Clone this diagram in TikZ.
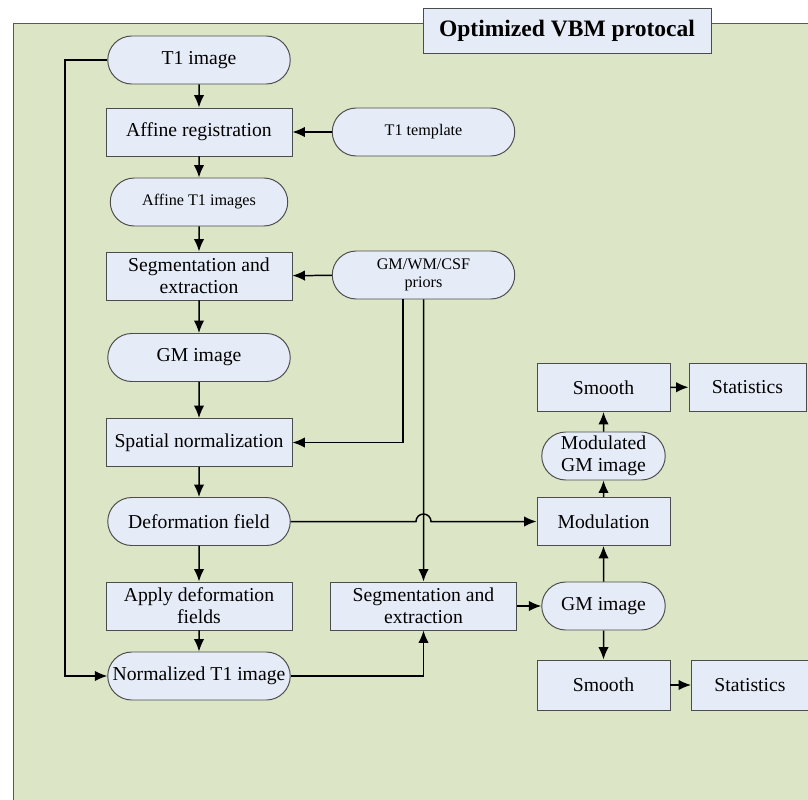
\documentclass[tikz,border=0pt]{standalone}
\usepackage{fontspec}
\setmainfont{Liberation Serif}
\usetikzlibrary{shapes.misc,calc,arrows.meta}
\definecolor{panelgreen}{RGB}{220,230,199}
\definecolor{boxblue}{RGB}{230,236,247}

\begin{document}
\begin{tikzpicture}[process/.style={draw=black!70,line width=0.55pt,fill=boxblue,minimum width=3.72cm,minimum height=0.96cm,
                                    inner sep=1pt,align=center,font=\fontsize{11.2}{12.4}\selectfont},
                    data/.style={process,rounded rectangle},
                    narrow/.style={minimum width=2.66cm},
                    note/.style={font=\fontsize{9.2}{10.5}\selectfont},
                    flow/.style={-{Latex[length=2.5mm,width=2.1mm]},line width=0.85pt}]
    \useasboundingbox (0,0) rectangle (16.16,-15.98);
    \fill[panelgreen,draw=black!65,line width=0.55pt] (0.26,-0.46) rectangle (16.6,-16.4);

    \node[process,font=\bfseries\fontsize{13.4}{15}\selectfont,minimum width=5.76cm,minimum height=0.9cm] (title) at (11.34,-0.61) {Optimized VBM protocal};

    % left column
    \node[data] (t1) at (3.98,-1.20) {T1 image};
    \node[process] (affine) at (3.98,-2.64) {Affine registration};
    \node[data,note,minimum width=3.62cm] (affine t1) at (3.98,-4.04) {Affine T1 images};
    \node[process] (seg) at (3.98,-5.52) {Segmentation and\\extraction};
    \node[data] (gm) at (3.98,-7.15) {GM image};
    \node[process] (spatial) at (3.98,-8.85) {Spatial normalization};
    \node[data] (deform) at (3.98,-10.43) {Deformation field};
    \node[process] (apply) at (3.98,-12.12) {Apply deformation\\fields};
    \node[data] (norm t1) at (3.98,-13.52) {Normalized T1 image};

    % middle column
    \node[data,note] (template) at (8.47,-2.64) {T1 template};
    \node[data,note] (priors) at (8.47,-5.50) {GM/WM/CSF\\priors};
    \node[process] (seg2) at (8.47,-12.12) {Segmentation and\\extraction};

    % right column
    \node[process,narrow] (smooth1) at (12.07,-7.75) {Smooth};
    \node[process,minimum width=2.34cm] (stats1) at (14.95,-7.74) {Statistics};
    \node[data,narrow,minimum width=2.54cm] (modulated) at (12.07,-9.12) {Modulated\\GM image};
    \node[process,narrow] (modulation) at (12.07,-10.43) {Modulation};
    \node[data,narrow,minimum width=2.54cm] (gm2) at (12.07,-12.12) {GM image};
    \node[process,narrow,minimum height=1.0cm] (smooth2) at (12.07,-13.70) {Smooth};
    \node[process,minimum width=2.34cm,minimum height=1.0cm] (stats2) at (15.0,-13.70) {Statistics};

    \coordinate (loop) at (1.30,0);
    \coordinate (prior split) at (8.06,0);

    \draw[flow] (t1) -- (affine);
    \draw[flow] (template) -- (affine);
    \draw[flow] (affine) -- (affine t1);
    \draw[flow] (affine t1) -- (seg);
    \draw[flow] (priors) -- (seg);
    \draw[flow] (seg) -- (gm);
    \draw[flow] (gm) -- (spatial);
    \draw[flow] (prior split |- priors.south) -- (prior split |- spatial) -- (spatial);
    \draw[flow] (spatial) -- (deform);
    \draw[flow] (deform) -- (apply);
    \draw[flow] (apply) -- (norm t1);
    \draw[flow] (t1.west) -- (loop |- t1) -- (loop |- norm t1) -- (norm t1);
    \draw[flow] (norm t1.east) -- (seg2 |- norm t1) -- (seg2);
    \draw[flow] (priors) -- (seg2);
    \draw[flow] let \p1=(seg2), \p2=(deform.east) in (deform.east) -- (\x1-0.15cm,\y2)
        arc[start angle=180,end angle=0,radius=0.15cm] -- (modulation);
    \draw[flow] (seg2) -- (gm2);
    \draw[flow] (gm2) -- (modulation);
    \draw[flow] (gm2) -- (smooth2);
    \draw[flow] (smooth2) -- (stats2);
    \draw[flow] (modulation) -- (modulated);
    \draw[flow] (modulated) -- (smooth1);
    \draw[flow] (smooth1) -- (stats1);
\end{tikzpicture}
\end{document}
